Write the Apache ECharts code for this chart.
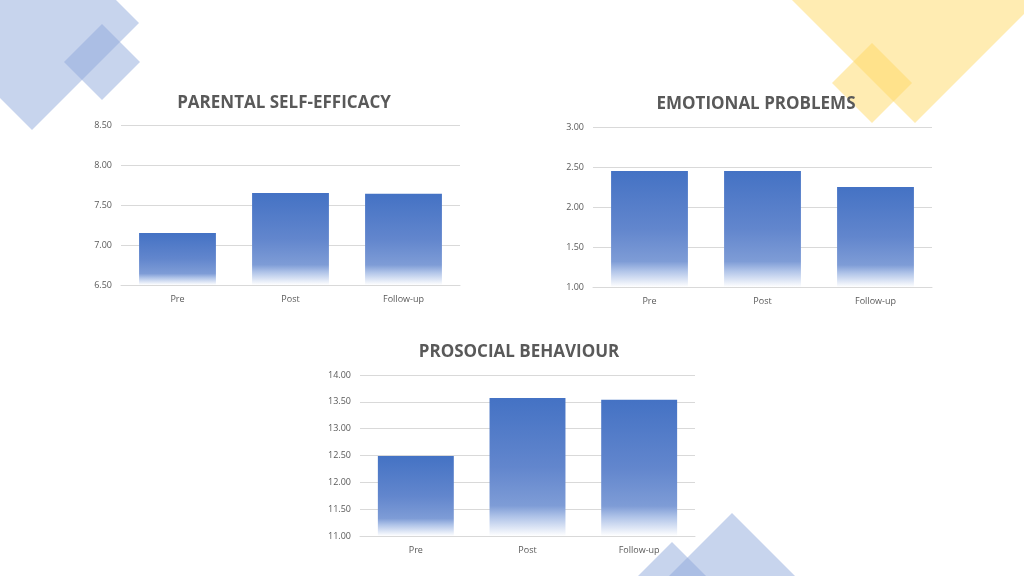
<!DOCTYPE html>
<html><head><meta charset="utf-8">
<script src="https://cdn.jsdelivr.net/npm/echarts@6/dist/echarts.min.js"></script>
<style>html,body{margin:0;padding:0;background:#fff}#c{width:1024px;height:576px}</style>
</head><body><div id="c"></div>
<script>
const categories = ['Pre', 'Post', 'Follow-up'];
const titles = ['PARENTAL SELF-EFFICACY', 'EMOTIONAL PROBLEMS', 'PROSOCIAL BEHAVIOUR'];
const selfEfficacy = [7.15, 7.65, 7.64];
const emotional = [2.45, 2.45, 2.25];
const prosocial = [12.49, 13.57, 13.54];
const yRanges = [[6.5, 8.5], [1.0, 3.0], [11.0, 14.0]];

const chart = echarts.init(document.getElementById('c'), null, {renderer: 'canvas'});
const font = '"Open Sans", sans-serif';
const grids = [
  {left: 121, right: 564, top: 125, bottom: 291},
  {left: 593, right: 92, top: 127, bottom: 289},
  {left: 360, right: 329, top: 375, bottom: 40}
];
const titlePos = [[279, 90], [751, 91], [514, 339]];
const seriesData = [selfEfficacy, emotional, prosocial];

const barColor = {
  type: 'linear', x: 0, y: 0, x2: 0, y2: 1,
  colorStops: [
    {offset: 0, color: 'rgb(68,114,196)'},
    {offset: 0.5, color: 'rgb(98,134,205)'},
    {offset: 0.78, color: 'rgb(126,156,214)'},
    {offset: 0.86, color: 'rgb(175,195,232)'},
    {offset: 1, color: 'rgb(255,255,255)'}
  ]
};

function diamond(cx, cy, h, fill) {
  return {type: 'polygon', z: 0, silent: true,
    shape: {points: [[cx, cy - h], [cx + h, cy], [cx, cy + h], [cx - h, cy]]},
    style: {fill: fill}};
}
const blue = 'rgba(143,170,220,0.5)';
const yellow = 'rgba(255,217,102,0.5)';

chart.setOption({
  animation: false,
  graphic: [
    diamond(32, 23, 107, blue),
    diamond(102, 62, 38, blue),
    diamond(915, 0, 123, yellow),
    diamond(872, 83, 40, yellow),
    diamond(732, 576, 63, blue),
    diamond(672, 576, 34, blue)
  ],
  title: titles.map((t, i) => ({
    text: t, left: titlePos[i][0], top: titlePos[i][1], textAlign: 'center',
    textStyle: {fontFamily: font, fontWeight: 'bold', fontSize: 17, color: '#595959'}
  })),
  grid: grids,
  xAxis: grids.map((g, i) => ({
    type: 'category', gridIndex: i, data: categories,
    axisLine: {lineStyle: {color: '#d9d9d9'}}, axisTick: {show: false},
    axisLabel: {fontFamily: font, fontSize: 9, color: '#595959', margin: 10}
  })),
  yAxis: grids.map((g, i) => ({
    type: 'value', gridIndex: i, min: yRanges[i][0], max: yRanges[i][1], interval: 0.5,
    axisLine: {show: false}, axisTick: {show: false},
    splitLine: {lineStyle: {color: '#d9d9d9'}},
    axisLabel: {fontFamily: font, fontSize: 9, color: '#595959', margin: 9,
      formatter: v => v.toFixed(2)}
  })),
  series: seriesData.map((d, i) => ({
    type: 'bar', xAxisIndex: i, yAxisIndex: i, data: d,
    barCategoryGap: '32%', itemStyle: {color: barColor}, z: 2
  }))
});
</script></body></html>
